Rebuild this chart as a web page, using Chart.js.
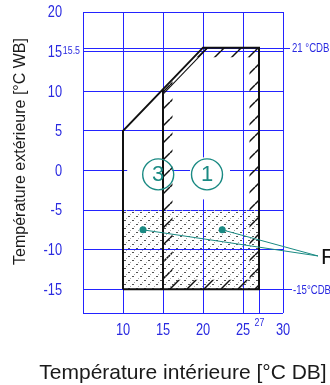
<!DOCTYPE html>
<html>
<head>
<meta charset="utf-8">
<script src="https://cdn.jsdelivr.net/npm/chart.js@4.4.1/dist/chart.umd.min.js"></script>
<style>
  html, body { margin: 0; padding: 0; background: #ffffff; }
  #wrap { position: relative; width: 330px; height: 385px; }
</style>
</head>
<body>
<div id="wrap"><canvas id="chart" width="330" height="385"></canvas></div>
<script>
// ---- axes ----
const xGridValues = [5, 10, 15, 20, 25, 30];
const xTickLabels = [10, 15, 20, 25, 30];
const yGridValues = [20, 15, 10, 5, 0, -5, -10, -15, -18];
const yTickLabels = [20, 15, 10, 5, 0, -5, -10, -15];
const xTitle = 'Température intérieure [°C DB]';
const yTitle = 'Température extérieure [°C WB]';

// ---- operating envelope (indoor °C DB, outdoor °C WB) ----
const envelopeX = [10, 10, 20, 27, 27, 10];
const envelopeY = [-15, 5, 15.5, 15.5, -15, -15];
// boundary between zone 3 and zone 1
const dividerX = [15, 15];
const dividerY = [-15, 10.25];
// zone 1 : continuous operation (edge-hatched)
const zone1X = [15, 15, 20, 27, 27];
const zone1Y = [-15, 10.25, 15.5, 15.5, -15];
// dotted warm-up area
const warmX = [10, 27, 27, 10];
const warmY = [-5, -5, -15, -15];

// ---- limit lines ----
const limitHighWB = 15.5;
const limitHighWBText = '15.5';
const limitHighCaption = '21 °CDB';
const limitLowWB = -15;
const limitLowCaption = '-15°CDB';
const limitDB = 27;
const limitDBText = '27';

// ---- zone markers ----
const zoneNames = ['3', '1'];
const zoneX = [14.4, 20.5];
const zoneY = [-0.5, -0.5];

// ---- callout for the warm-up area ----
const calloutX = [12.5, 22.4];
const calloutY = [-7.5, -7.5];
const calloutAnchorY = -10.8;
const calloutText = 'Réchauffement';

// ---- styles ----
const GRID_BLUE = '#2323ff';
const TEXT_BLUE = '#2a2ae0';
const TEAL = '#1a8a83';
const SANS = "'Liberation Sans', Arial, sans-serif";
const NARROW_SCALE = 0.8;

const pts = (xs, ys) => xs.map((x, i) => ({ x: x, y: ys[i] }));

const canvas = document.getElementById('chart');
const mainCtx = canvas.getContext('2d');

// condensed text: Liberation Sans squeezed horizontally
function narrowText(ctx, text, x, y, size, align) {
  ctx.save();
  ctx.font = size + 'px ' + SANS;
  ctx.textAlign = align;
  ctx.textBaseline = 'middle';
  ctx.translate(x, y + 1);
  ctx.scale(NARROW_SCALE, 1);
  ctx.fillText(text, 0, 0);
  ctx.restore();
}

// dotted fill tile
function makeDotPattern() {
  const t = document.createElement('canvas');
  t.width = 8; t.height = 8;
  const g = t.getContext('2d');
  g.fillStyle = '#505050';
  g.fillRect(0, 0, 2, 1);
  g.fillRect(4, 4, 2, 1);
  g.fillStyle = '#a8a8a8';
  g.fillRect(6, 2, 1, 1);
  g.fillRect(2, 6, 1, 1);
  return mainCtx.createPattern(t, 'repeat');
}
// diagonal hatch tile
function makeHatchPattern() {
  const s = 17;
  const t = document.createElement('canvas');
  t.width = s; t.height = s;
  const g = t.getContext('2d');
  g.strokeStyle = '#111';
  g.lineWidth = 1.5;
  for (const k of [-s, 0, s]) {
    g.beginPath();
    g.moveTo(k, s);
    g.lineTo(k + s, 0);
    g.stroke();
  }
  return mainCtx.createPattern(t, 'repeat');
}
const dotPattern = makeDotPattern();
const hatchPattern = makeHatchPattern();

// limit lines, tick labels, white label boxes and edge hatch of zone 1
const underlayPlugin = {
  id: 'underlay',
  beforeDatasetsDraw(chart) {
    const { ctx, chartArea: a, scales: { x, y } } = chart;
    ctx.save();

    // tick labels
    ctx.fillStyle = TEXT_BLUE;
    xTickLabels.forEach(v => narrowText(ctx, String(v), x.getPixelForValue(v), a.bottom + 17, 16, 'center'));
    yTickLabels.forEach(v => narrowText(ctx, String(v), a.left - 21, y.getPixelForValue(v), 16, 'right'));

    // white boxes behind zone markers
    const boxes = [[-31, 14, -17, 25], [-17, 23, -17, 25]];
    ctx.fillStyle = '#ffffff';
    zoneNames.forEach((n, i) => {
      const cx = x.getPixelForValue(zoneX[i]);
      const cy = y.getPixelForValue(zoneY[i]);
      const b = boxes[i];
      ctx.fillRect(cx + b[0], cy + b[2], b[1] - b[0], b[3] - b[2]);
    });

    // limit lines
    ctx.strokeStyle = GRID_BLUE;
    ctx.lineWidth = 1;
    const yh = Math.round(y.getPixelForValue(limitHighWB)) + 0.5;
    const yl = Math.round(y.getPixelForValue(limitLowWB)) + 0.5;
    const xl = Math.round(x.getPixelForValue(limitDB)) + 0.5;
    ctx.beginPath();
    ctx.moveTo(a.left, yh); ctx.lineTo(a.right + 7, yh);
    ctx.moveTo(a.right, yl); ctx.lineTo(a.right + 9, yl);
    ctx.moveTo(xl, a.bottom); ctx.lineTo(xl, yh);
    ctx.stroke();

    ctx.fillStyle = TEXT_BLUE;
    narrowText(ctx, limitHighCaption, a.right + 9, yh - 1, 12, 'left');
    narrowText(ctx, limitLowCaption, a.right + 10, yl, 12, 'left');
    narrowText(ctx, limitHighWBText, a.left - 3, yh + 1, 11, 'right');
    narrowText(ctx, limitDBText, xl, a.bottom + 9, 11, 'center');

    // edge hatch band inside zone 1
    const p = zone1X.map((v, i) => [x.getPixelForValue(v), y.getPixelForValue(zone1Y[i])]);
    ctx.beginPath();
    p.forEach((q, i) => (i ? ctx.lineTo(q[0], q[1]) : ctx.moveTo(q[0], q[1])));
    ctx.closePath();
    ctx.clip();
    ctx.strokeStyle = hatchPattern;
    ctx.lineWidth = 19;
    ctx.lineCap = 'square';
    ctx.beginPath();
    // every edge except the sloped one (index 1 -> 2)
    ctx.moveTo(p[1][0], p[1][1]); ctx.lineTo(p[0][0], p[0][1]);
    ctx.lineTo(p[4][0], p[4][1]); ctx.lineTo(p[3][0], p[3][1]);
    ctx.lineTo(p[2][0], p[2][1]);
    ctx.stroke();
    // inner line along the sloped edge
    const dx = p[2][0] - p[1][0], dy = p[2][1] - p[1][1];
    const len = Math.hypot(dx, dy);
    const nx = -dy / len * 3.5, ny = dx / len * 3.5;
    ctx.strokeStyle = '#111';
    ctx.lineWidth = 1.1;
    ctx.beginPath();
    ctx.moveTo(p[1][0] + nx - dx, p[1][1] + ny - dy);
    ctx.lineTo(p[2][0] + nx + dx, p[2][1] + ny + dy);
    ctx.stroke();
    ctx.restore();
  }
};

// zone markers, callout, axis titles
const overlayPlugin = {
  id: 'overlay',
  afterDatasetsDraw(chart) {
    const { ctx, chartArea: a, scales: { x, y } } = chart;
    ctx.save();
    zoneNames.forEach((n, i) => {
      const cx = x.getPixelForValue(zoneX[i]);
      const cy = y.getPixelForValue(zoneY[i]);
      ctx.strokeStyle = TEAL;
      ctx.lineWidth = 1.4;
      ctx.beginPath();
      ctx.arc(cx, cy, 15.5, 0, Math.PI * 2);
      ctx.stroke();
      ctx.fillStyle = TEAL;
      ctx.font = '22px ' + SANS;
      ctx.textAlign = 'center';
      ctx.textBaseline = 'middle';
      ctx.fillText(n, cx, cy + 1);
    });

    const ax = a.right + 35;
    const ay = y.getPixelForValue(calloutAnchorY);
    ctx.strokeStyle = TEAL;
    ctx.lineWidth = 1;
    calloutX.forEach((v, i) => {
      ctx.beginPath();
      ctx.moveTo(x.getPixelForValue(v), y.getPixelForValue(calloutY[i]));
      ctx.lineTo(ax, ay);
      ctx.stroke();
    });
    ctx.fillStyle = '#111';
    ctx.font = '22px ' + SANS;
    ctx.textAlign = 'left';
    ctx.textBaseline = 'middle';
    ctx.fillText(calloutText, ax + 3, ay + 2);

    // x-axis title
    ctx.fillStyle = '#1a1a1a';
    ctx.font = '21px ' + SANS;
    ctx.textAlign = 'center';
    ctx.fillText(xTitle, (a.left + a.right) / 2, 373);

    // y-axis title
    ctx.translate(21, 151.5);
    ctx.rotate(-Math.PI / 2);
    ctx.font = '16px ' + SANS;
    ctx.fillText(yTitle, 0, 0);
    ctx.restore();
  }
};

new Chart(canvas, {
  type: 'scatter',
  data: {
    datasets: [
      {
        label: 'callout',
        data: pts(calloutX, calloutY),
        showLine: false,
        pointRadius: 3.5,
        pointBackgroundColor: TEAL,
        pointBorderWidth: 0
      },
      {
        label: 'envelope',
        data: pts(envelopeX, envelopeY),
        showLine: true,
        borderColor: '#111',
        borderWidth: 2,
        pointRadius: 0,
        fill: false,
        tension: 0
      },
      {
        label: 'divider',
        data: pts(dividerX, dividerY),
        showLine: true,
        borderColor: '#111',
        borderWidth: 2,
        pointRadius: 0,
        fill: false
      },
      {
        label: 'warm-up',
        data: pts(warmX, warmY),
        showLine: true,
        borderWidth: 0,
        borderColor: 'rgba(0,0,0,0)',
        backgroundColor: dotPattern,
        pointRadius: 0,
        fill: 'shape'
      }
    ]
  },
  options: {
    responsive: false,
    animation: false,
    events: [],
    layout: { padding: { left: 0, right: 47, top: 12, bottom: 0 } },
    plugins: { legend: { display: false }, tooltip: { enabled: false } },
    scales: {
      x: {
        type: 'linear',
        min: 5,
        max: 30,
        afterBuildTicks: s => { s.ticks = xGridValues.map(v => ({ value: v })); },
        afterFit: s => { s.height = 72; },
        border: { display: false },
        grid: { color: GRID_BLUE, lineWidth: 1, drawTicks: false },
        ticks: { display: false }
      },
      y: {
        type: 'linear',
        min: -18,
        max: 20,
        afterBuildTicks: s => { s.ticks = yGridValues.map(v => ({ value: v })); },
        afterFit: s => { s.width = 83; },
        border: { display: false },
        grid: { color: GRID_BLUE, lineWidth: 1, drawTicks: false },
        ticks: { display: false }
      }
    }
  },
  plugins: [underlayPlugin, overlayPlugin]
});
</script>
</body>
</html>
